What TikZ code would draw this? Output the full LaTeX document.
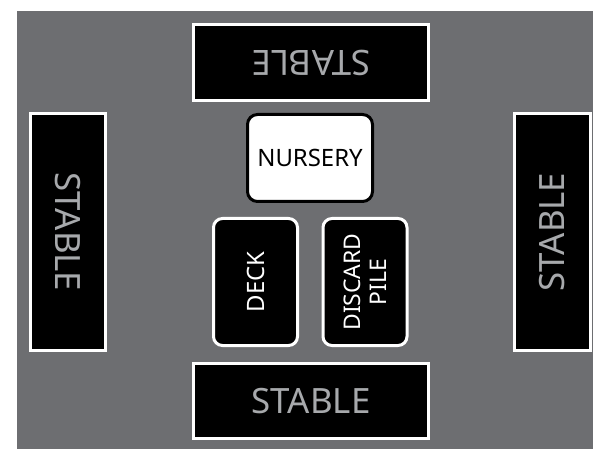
\documentclass[tikz,border=0pt]{standalone}
\usepackage{fontspec}
\setmainfont{Noto Sans}
\definecolor{bggray}{HTML}{6D6E71}
\definecolor{txtgray}{HTML}{A7A9AC}
\begin{document}
\begin{tikzpicture}[x=1bp,y=-1bp,
  stablebox/.style={draw=white, line width=3bp, fill=black, text=txtgray,
    font=\fontsize{35}{40}\selectfont, inner sep=0pt, outer sep=0pt},
  cardbox/.style={draw=white, line width=3bp, fill=black, text=white,
    rounded corners=9bp, font=\fontsize{24}{24}\selectfont, inner sep=0pt,
    outer sep=0pt, minimum width=127bp, minimum height=84bp, align=center},
  nurserybox/.style={draw=black, line width=3bp, fill=white, text=black,
    rounded corners=10bp, font=\fontsize{24}{28}\selectfont, inner sep=0pt,
    outer sep=0pt, minimum width=125bp, minimum height=87bp}]
\useasboundingbox (0,0) rectangle (593,449);
\fill[white] (0,0) rectangle (593,449);
\fill[bggray] (17,11) rectangle (593,449);
\node[stablebox, minimum width=235bp, minimum height=76bp, rotate=180] (stop) at (311,62.5) {STABLE};
\node[stablebox, minimum width=235bp, minimum height=75bp] (sbottom) at (311,401) {STABLE};
\node[stablebox, minimum width=237bp, minimum height=75bp, rotate=-90] (sleft) at (68,232) {STABLE};
\node[stablebox, minimum width=237bp, minimum height=76bp, rotate=90] (sright) at (552.5,232) {STABLE};
\node[nurserybox] (nursery) at (310,158) {NURSERY};
\node[cardbox, rotate=90] (deck) at (255.5,282) {DECK};
\node[cardbox, rotate=90, font=\fontsize{23}{26}\selectfont] (discard) at (365,282) {DISCARD\\PILE};
\end{tikzpicture}
\end{document}
